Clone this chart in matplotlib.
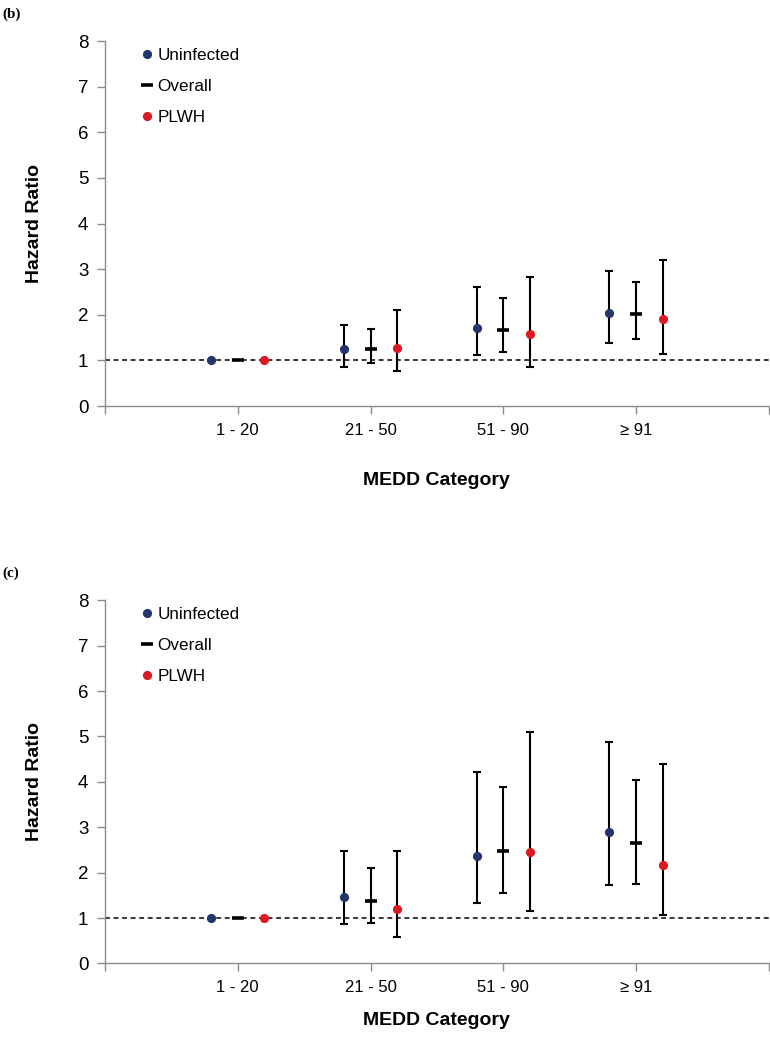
import numpy as np
import matplotlib.pyplot as plt
from matplotlib.lines import Line2D

# MEDD categories
categories = ['1 - 20', '21 - 50', '51 - 90', '\u2265 91']

# Panel (b): hazard ratio, lower and upper CI
unin_b = [1.0, 1.25, 1.71, 2.03]
unin_b_lo = [1.0, 0.86, 1.12, 1.38]
unin_b_hi = [1.0, 1.78, 2.62, 2.97]
overall_b = [1.0, 1.26, 1.67, 2.01]
overall_b_lo = [1.0, 0.94, 1.19, 1.48]
overall_b_hi = [1.0, 1.69, 2.36, 2.72]
plwh_b = [1.0, 1.28, 1.58, 1.91]
plwh_b_lo = [1.0, 0.77, 0.86, 1.14]
plwh_b_hi = [1.0, 2.11, 2.82, 3.20]

# Panel (c)
unin_c = [1.0, 1.47, 2.37, 2.90]
unin_c_lo = [1.0, 0.87, 1.34, 1.73]
unin_c_hi = [1.0, 2.48, 4.21, 4.87]
overall_c = [1.0, 1.38, 2.47, 2.65]
overall_c_lo = [1.0, 0.90, 1.56, 1.75]
overall_c_hi = [1.0, 2.10, 3.88, 4.03]
plwh_c = [1.0, 1.20, 2.45, 2.17]
plwh_c_lo = [1.0, 0.58, 1.16, 1.07]
plwh_c_hi = [1.0, 2.47, 5.10, 4.40]

navy = '#22366b'
red = '#dc1a22'
grey = '#8c8c8c'

plt.rcParams['font.family'] = ['Liberation Sans', 'DejaVu Sans']

fig = plt.figure(figsize=(7.7, 10.5), dpi=100)


def draw_panel(ax, unin, unin_lo, unin_hi, overall, overall_lo, overall_hi,
               plwh, plwh_lo, plwh_hi, xpad):
    x = np.arange(1, len(categories) + 1)
    off = 0.2
    series = [
        (x - off, unin, unin_lo, unin_hi, 'o', navy),
        (x, overall, overall_lo, overall_hi, '_', 'black'),
        (x + off, plwh, plwh_lo, plwh_hi, 'o', red),
    ]
    ax.axhline(1, color='black', lw=1.1, dashes=(3.2, 2.4), zorder=1)
    for xs, v, lo, hi, m, c in series:
        v = np.array(v)
        lo = np.array(lo)
        hi = np.array(hi)
        # reference category has no interval
        ax.errorbar(xs[1:], v[1:], yerr=[v[1:] - lo[1:], hi[1:] - v[1:]],
                    fmt='none', ecolor='black', elinewidth=1.5, capsize=3.0,
                    capthick=1.5, zorder=2)
        if m == 'o':
            ax.plot(xs, v, 'o', color=c, ms=5.6, mec=c, zorder=3, ls='none')
        else:
            ax.plot(xs, v, '_', color=c, ms=8, mew=2.6, zorder=3, ls='none')

    ax.set_xlim(0, 5)
    ax.set_ylim(0, 8)
    ax.set_yticks(range(0, 9))
    ax.set_xticks(range(0, 6))
    ax.set_xticklabels([''] + categories + [''])
    ax.tick_params(axis='y', labelsize=13.5, color=grey, length=6, width=1, pad=6)
    ax.tick_params(axis='x', labelsize=12, color=grey, length=6, width=1, pad=6)
    for s in ['top', 'right']:
        ax.spines[s].set_visible(False)
    for s in ['left', 'bottom']:
        ax.spines[s].set_color(grey)
        ax.spines[s].set_linewidth(1)
    ax.set_ylabel('Hazard Ratio', fontsize=14, fontweight='bold', labelpad=25)
    ax.set_xlabel('MEDD Category', fontsize=14, fontweight='bold', labelpad=xpad)

    handles = [
        Line2D([], [], marker='o', color=navy, ls='none', ms=5.6),
        Line2D([], [], marker='_', color='black', ls='none', ms=8, mew=2.6),
        Line2D([], [], marker='o', color=red, ls='none', ms=5.6),
    ]
    ax.legend(handles, ['Uninfected', 'Overall', 'PLWH'], loc='upper left',
              bbox_to_anchor=(0.04, 1.01), frameon=False, fontsize=12.3,
              handlelength=0.6, handletextpad=0.3, labelspacing=0.95,
              borderaxespad=0.2)


ax1 = fig.add_axes([0.1364, 0.6133, 0.862, 0.3476])
draw_panel(ax1, unin_b, unin_b_lo, unin_b_hi, overall_b, overall_b_lo,
           overall_b_hi, plwh_b, plwh_b_lo, plwh_b_hi, 25)

ax2 = fig.add_axes([0.1364, 0.0824, 0.862, 0.346])
draw_panel(ax2, unin_c, unin_c_lo, unin_c_hi, overall_c, overall_c_lo,
           overall_c_hi, plwh_c, plwh_c_lo, plwh_c_hi, 12)

fig.text(0.003, 0.9925, '(b)', fontsize=11, fontweight='bold',
         family='Liberation Serif', va='top')
fig.text(0.003, 0.46, '(c)', fontsize=11, fontweight='bold',
         family='Liberation Serif', va='top')

fig.savefig('out.png', dpi=100)
